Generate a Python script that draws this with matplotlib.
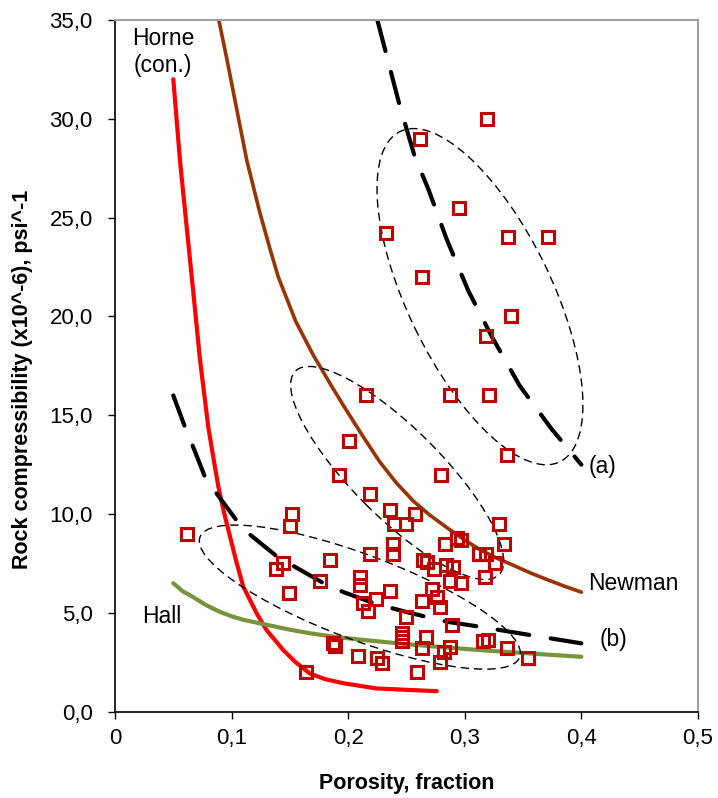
import matplotlib
matplotlib.use("Agg")
import matplotlib.pyplot as plt
import matplotlib.transforms as mtransforms
from matplotlib.patches import Ellipse

plt.rcParams["font.family"] = ["Liberation Sans", "DejaVu Sans"]

# measured samples (porosity, compressibility x10^-6 psi^-1)
por = [0.319, 0.262, 0.295, 0.232, 0.337, 0.371, 0.263, 0.340, 0.318, 0.215,
       0.287, 0.321, 0.201, 0.336, 0.192, 0.280,
       0.219, 0.236, 0.257, 0.239, 0.250, 0.329, 0.152, 0.150, 0.062,
       0.283, 0.293, 0.297, 0.334, 0.238, 0.238, 0.219, 0.184,
       0.312, 0.318, 0.326, 0.317,
       0.264, 0.268, 0.274, 0.284, 0.290, 0.297, 0.287, 0.272, 0.236, 0.276,
       0.263, 0.279,
       0.144, 0.138, 0.176, 0.149, 0.210, 0.210, 0.213, 0.224, 0.217,
       0.250, 0.289, 0.246, 0.246, 0.246, 0.267, 0.263, 0.287, 0.282, 0.279,
       0.259, 0.316, 0.320, 0.336, 0.354, 0.187, 0.189, 0.208, 0.225, 0.229,
       0.164]
comp = [30.0, 29.0, 25.5, 24.2, 24.0, 24.0, 22.0, 20.0, 19.0, 16.0,
        16.0, 16.0, 13.7, 13.0, 12.0, 12.0,
        11.0, 10.2, 10.0, 9.5, 9.5, 9.5, 10.0, 9.4, 9.0,
        8.5, 8.8, 8.7, 8.5, 8.5, 8.0, 8.0, 7.7,
        8.0, 8.0, 7.5, 6.8,
        7.7, 7.6, 7.2, 7.4, 7.3, 6.5, 6.6, 6.2, 6.1, 5.8,
        5.6, 5.3,
        7.5, 7.2, 6.6, 6.0, 6.8, 6.4, 5.5, 5.7, 5.1,
        4.8, 4.4, 4.0, 3.8, 3.6, 3.8, 3.2, 3.3, 3.0, 2.5,
        2.0, 3.6, 3.65, 3.2, 2.7, 3.5, 3.35, 2.8, 2.7, 2.45,
        2.0]

# correlations
horne_x = [0.050, 0.0557, 0.0615, 0.0672, 0.0729, 0.080, 0.0845, 0.0886,
           0.093, 0.0972, 0.104, 0.110, 0.1215, 0.130, 0.1443, 0.155, 0.167,
           0.180, 0.196, 0.224, 0.253, 0.276]
horne_y = [32.0, 27.9, 24.5, 21.2, 17.8, 14.4, 12.8, 11.4,
           10.2, 9.2, 7.6, 6.33, 4.98, 4.13, 3.12, 2.5, 1.94,
           1.65, 1.44, 1.18, 1.10, 1.04]

newman_x = [0.089, 0.096, 0.105, 0.113, 0.124, 0.133, 0.140, 0.155, 0.170,
            0.176, 0.187, 0.199, 0.213, 0.227, 0.241, 0.256, 0.270, 0.285,
            0.299, 0.313, 0.327, 0.342, 0.356, 0.370, 0.385, 0.400]
newman_y = [35.0, 33.0, 30.3, 27.9, 25.3, 23.4, 22.0, 19.75, 18.05,
            17.45, 16.35, 15.2, 13.9, 12.65, 11.6, 10.65, 9.95, 9.3,
            8.72, 8.2, 7.78, 7.4, 7.03, 6.7, 6.36, 6.05]

hall_x = [0.050, 0.058, 0.067, 0.078, 0.090, 0.100, 0.110, 0.130, 0.150,
          0.167, 0.190, 0.210, 0.250, 0.280, 0.313, 0.350, 0.400]
hall_y = [6.5, 6.1, 5.8, 5.4, 5.05, 4.83, 4.65, 4.4, 4.15,
          3.97, 3.78, 3.65, 3.42, 3.27, 3.12, 2.97, 2.78]

trend_a_x = [0.225, 0.244, 0.257, 0.269, 0.2845, 0.303, 0.323, 0.347, 0.3745, 0.400]
trend_a_y = [35.0, 30.7, 28.1, 26.4, 23.9, 21.3, 19.0, 16.5, 14.3, 12.5]

trend_b_x = [0.050, 0.060, 0.067, 0.077, 0.087, 0.104, 0.116, 0.139, 0.179,
             0.196, 0.224, 0.253, 0.285, 0.313, 0.356, 0.400]
trend_b_y = [16.0, 14.4, 13.4, 11.9, 11.05, 9.7, 8.95, 7.85, 6.5,
             6.05, 5.45, 5.0, 4.55, 4.3, 3.88, 3.46]

x_ticks = [0, 0.1, 0.2, 0.3, 0.4, 0.5]
x_labels = ["0", "0,1", "0,2", "0,3", "0,4", "0,5"]
y_ticks = [0, 5, 10, 15, 20, 25, 30, 35]
y_labels = ["0,0", "5,0", "10,0", "15,0", "20,0", "25,0", "30,0", "35,0"]

fig = plt.figure(figsize=(7.18, 7.98), dpi=100)
ax = fig.add_axes([0.1602, 0.1081, 0.8119, 0.8669])

ax.plot(horne_x, horne_y, color="#FF0000", lw=3, solid_capstyle="round")
ax.plot(newman_x, newman_y, color="#993300", lw=2.6, solid_capstyle="round")
ax.plot(hall_x, hall_y, color="#77933C", lw=3, solid_capstyle="round")
ax.plot(trend_a_x, trend_a_y, color="black", lw=3, dashes=(7.7, 5.2),
        dash_capstyle="round")
ax.plot(trend_b_x, trend_b_y, color="black", lw=3, dashes=(7.7, 5.2),
        dash_capstyle="round")

ax.plot(por, comp, ls="none", marker="s", ms=8, mew=2.2,
        mfc="none", mec="#C00000", zorder=5)

ax.set_xlim(0, 0.5)
ax.set_ylim(0, 35)

# ellipses drawn in units where x and y pixels are equal
k = (ax.bbox.width / 0.5) / (ax.bbox.height / 35)
ell_tr = mtransforms.Affine2D().scale(1 / k, 1) + ax.transData
for (xc, yc, w, h, ang) in [(0.313, 21.0, 18.56, 7.31, -64.2),
                            (0.242, 12.08, 14.57, 4.49, -45.0),
                            (0.210, 5.80, 17.28, 4.30, -20.6)]:
    ax.add_patch(Ellipse((xc * k, yc), w, h, angle=ang, fill=False,
                         ec="black", lw=1.0, ls=(0, (6, 3.6)),
                         transform=ell_tr, zorder=3))

ax.text(0.041, 33.4, "Horne\n(con.)", ha="center", va="center",
        fontsize=16.5, linespacing=1.22)
ax.text(0.406, 6.5, "Newman", ha="left", va="center", fontsize=16.5)
ax.text(0.023, 4.8, "Hall", ha="left", va="center", fontsize=16.5)
ax.text(0.406, 12.4, "(a)", ha="left", va="center", fontsize=16.5)
ax.text(0.416, 3.65, "(b)", ha="left", va="center", fontsize=16.5)

ax.set_xticks(x_ticks, x_labels)
ax.set_yticks(y_ticks, y_labels)
ax.tick_params(axis="both", direction="out", length=5, width=1, labelsize=16)
ax.tick_params(axis="x", pad=6.5)
ax.tick_params(axis="y", pad=11)
for side in ["top", "right"]:
    ax.spines[side].set_color("#A0A0A0")
    ax.spines[side].set_linewidth(1.5)
for side in ["left", "bottom"]:
    ax.spines[side].set_linewidth(1.2)

ax.set_xlabel("Porosity, fraction", fontsize=15.5, fontweight="bold")
ax.xaxis.set_label_coords(0.5, -0.088)
ax.set_ylabel("Rock compressibility (x10^-6), psi^-1", fontsize=15.5,
              fontweight="bold")
ax.yaxis.set_label_coords(-0.141, 0.48)

fig.savefig("out.png", dpi=100)
